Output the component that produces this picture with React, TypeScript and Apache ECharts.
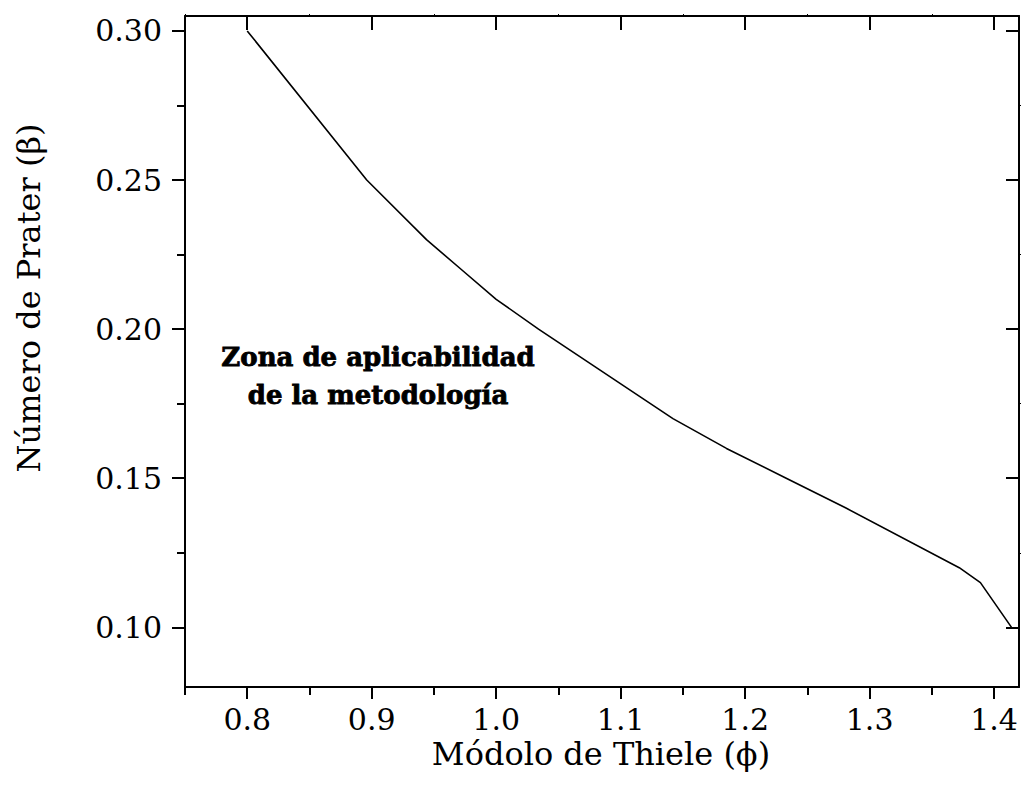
import React, { useEffect, useRef } from "react";
import * as echarts from "echarts";

const thieleModulus = [0.8, 0.896, 0.944, 0.972, 1.0, 1.034, 1.142, 1.185, 1.233, 1.281, 1.372, 1.389, 1.414];
const praterNumber = [0.3, 0.25, 0.23, 0.22, 0.21, 0.2, 0.17, 0.16, 0.15, 0.14, 0.12, 0.115, 0.1];

const xMajorTicks = [0.8, 0.9, 1.0, 1.1, 1.2, 1.3, 1.4];
const xMinorTicks = [0.75, 0.85, 0.95, 1.05, 1.15, 1.25, 1.35];
const yMajorTicks = [0.1, 0.15, 0.2, 0.25, 0.3];
const yMinorTicks = [0.125, 0.175, 0.225, 0.275];

const xTitle = "Módolo de Thiele (ϕ)";
const yTitle = "Número de Prater (β)";
const annotation = "Zona de aplicabilidad\nde la metodología";

const FONT = "DejaVu Serif";

export default function App() {
  const ref = useRef<HTMLDivElement>(null);
  useEffect(() => {
    document.body.style.margin = "0";
    const chart = echarts.init(ref.current!, null, { renderer: "svg" });
    const black = "#000";
    const lineW = 2;
    const xBase = { type: "value", min: 0.75, max: 1.42, gridIndex: 0, splitLine: { show: false } };
    const yBase = { type: "value", min: 0.08, max: 0.305, gridIndex: 0, splitLine: { show: false } };
    const noLabel = { show: false };
    chart.setOption({
      animation: false,
      backgroundColor: "#fff",
      grid: { left: 185, right: 4, top: 16, bottom: 111 },
      xAxis: [
        {
          ...xBase,
          position: "bottom",
          axisLine: { show: true, lineStyle: { color: black, width: lineW } },
          axisTick: { show: true, inside: false, length: 12, customValues: xMajorTicks, lineStyle: { color: black, width: lineW } },
          axisLabel: {
            show: true,
            customValues: xMajorTicks,
            formatter: (v: number) => v.toFixed(1),
            margin: 17,
            fontSize: 30,
            fontFamily: FONT,
            color: black,
          },
        },
        {
          ...xBase,
          position: "bottom",
          axisLine: { show: false },
          axisTick: { show: true, inside: false, length: 8, customValues: xMinorTicks, lineStyle: { color: black, width: lineW } },
          axisLabel: noLabel,
        },
        {
          ...xBase,
          position: "top",
          axisLine: { show: true, lineStyle: { color: black, width: lineW } },
          axisTick: { show: true, inside: true, length: 14, customValues: xMajorTicks, lineStyle: { color: black, width: lineW } },
          axisLabel: noLabel,
        },
        {
          ...xBase,
          position: "top",
          axisLine: { show: false },
          axisTick: { show: true, inside: false, length: 2, customValues: xMinorTicks, lineStyle: { color: black, width: 1 } },
          axisLabel: noLabel,
        },
      ],
      yAxis: [
        {
          ...yBase,
          position: "left",
          axisLine: { show: true, lineStyle: { color: black, width: lineW } },
          axisTick: { show: true, inside: false, length: 13, customValues: yMajorTicks, lineStyle: { color: black, width: lineW } },
          axisLabel: {
            show: true,
            customValues: yMajorTicks,
            formatter: (v: number) => v.toFixed(2),
            margin: 23,
            fontSize: 30,
            fontFamily: FONT,
            color: black,
          },
        },
        {
          ...yBase,
          position: "left",
          axisLine: { show: false },
          axisTick: { show: true, inside: false, length: 8, customValues: yMinorTicks, lineStyle: { color: black, width: lineW } },
          axisLabel: noLabel,
        },
        {
          ...yBase,
          position: "right",
          axisLine: { show: true, lineStyle: { color: black, width: lineW } },
          axisTick: { show: true, inside: true, length: 13, customValues: yMajorTicks, lineStyle: { color: black, width: lineW } },
          axisLabel: noLabel,
        },
        {
          ...yBase,
          position: "right",
          axisLine: { show: false },
          axisTick: { show: true, inside: false, length: 2, customValues: yMinorTicks, lineStyle: { color: black, width: 1 } },
          axisLabel: noLabel,
        },
      ],
      series: [
        {
          type: "line",
          xAxisIndex: 0,
          yAxisIndex: 0,
          data: thieleModulus.map((x, i) => [x, praterNumber[i]]),
          symbol: "none",
          smooth: false,
          lineStyle: { color: black, width: 1.6 },
        },
      ],
      graphic: [
        {
          type: "text",
          x: 601,
          y: 754,
          style: {
            text: xTitle,
            fontSize: 32,
            fontFamily: FONT,
            fill: black,
            textAlign: "center",
            textVerticalAlign: "middle",
          },
        },
        {
          type: "text",
          x: 29,
          y: 298,
          rotation: Math.PI / 2,
          style: {
            text: yTitle,
            fontSize: 32,
            fontFamily: FONT,
            fill: black,
            textAlign: "center",
            textVerticalAlign: "middle",
          },
        },
        {
          type: "text",
          x: 378,
          y: 376,
          style: {
            text: annotation,
            fontSize: 26,
            fontWeight: "bold",
            fontFamily: FONT,
            fill: black,
            stroke: black,
            lineWidth: 0.8,
            textAlign: "center",
            textVerticalAlign: "middle",
            lineHeight: 38,
          },
        },
      ],
    });
    return () => chart.dispose();
  }, []);
  return <div ref={ref} style={{ width: 1023, height: 798 }} />;
}
